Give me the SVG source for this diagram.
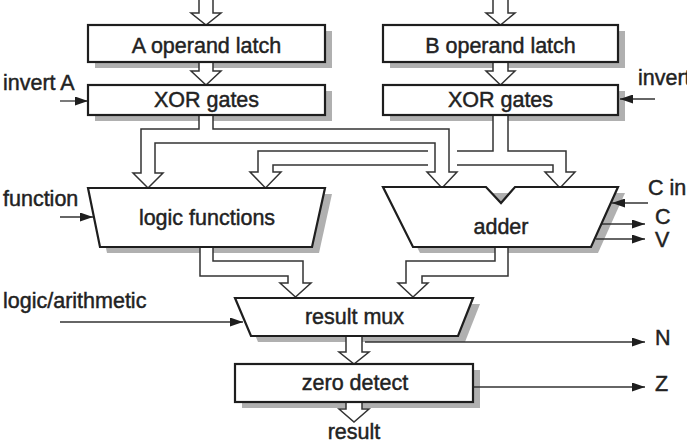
<svg xmlns="http://www.w3.org/2000/svg" width="687" height="443" viewBox="0 0 687 443">
<style>
text{font-family:"Liberation Sans",Arial,Helvetica,sans-serif;font-size:21.5px;fill:#222;stroke:#222;stroke-width:0.45}
.c{text-anchor:middle}
.node{fill:#fff;stroke:#1e1e1e;stroke-width:2.2;stroke-linejoin:miter}
.sh{fill:#b0b0b0}
.bus{fill:#fff;stroke:#333;stroke-width:1.5;stroke-linejoin:miter}
.sig{fill:none;stroke:#333;stroke-width:1.3}
</style>
<defs>
<marker id="ah" markerUnits="userSpaceOnUse" markerWidth="13" markerHeight="9" refX="13" refY="4.5" orient="auto">
<path d="M0,0 L13,4.5 L0,9 z" fill="#1e1e1e"/>
</marker>
</defs>
<rect width="687" height="443" fill="#fff"/>
<g id="shadows">
<rect class="sh" x="95" y="31" width="237" height="37"/>
<rect class="sh" x="95" y="91" width="237" height="30"/>
<rect class="sh" x="390" y="31" width="235" height="37"/>
<rect class="sh" x="390" y="91" width="235" height="30"/>
<polygon class="sh" points="95,194 332,194 319,253 107,253"/>
<polygon class="sh" points="390,193 625,193 598,253 420,253"/>
<polygon class="sh" points="242,304 480,304 465,342 258,342"/>
<rect class="sh" x="242" y="370" width="238" height="38"/>
</g>
<g id="connectors">
<path class="bus" d="M199,0 V13 H191 L206,25 L221,13 H213 V0"/>
<path class="bus" d="M199,63 V71 H191 L206,85 L221,71 H213 V63"/>
<path class="bus" d="M493,0 V13 H486 L500.5,25 L515,13 H508 V0"/>
<path class="bus" d="M493,63 V71 H486 L500.5,85 L515,71 H508 V63"/>
<path class="bus" d="M493,116 V151 H258 V172 H250 L265.5,188 L281,172 H273 V165 H553 V172 H545 L560,188 L575,172 H566 V151 H508 V116"/>
<rect x="428" y="147" width="29" height="22" fill="#fff"/>
<path class="bus" d="M199,116 V129 H141 V173 H133 L148,188 L163,173 H155 V143 H435 V172 H427 L442,188 L457,172 H449 V129 H213 V116"/>
<path class="bus" d="M200,248 V276 H288 V283 H280 L295.5,297 L311,283 H303 V261 H213 V248"/>
<path class="bus" d="M508,248 V276 H422 V283 H428 L413,297 L398,283 H406 V261 H495 V248"/>
<path class="bus" d="M346,337 V352 H339 L354,364 L369,352 H362 V337"/>
<path class="bus" d="M346,403 V409 H339 L354,422 L369,409 H362 V403"/>
<line class="sig" x1="60" y1="101" x2="88" y2="101" marker-end="url(#ah)"/>
<line class="sig" x1="655" y1="99" x2="620" y2="99" marker-end="url(#ah)"/>
<line class="sig" x1="60" y1="217" x2="93" y2="217" marker-end="url(#ah)"/>
<line class="sig" x1="648" y1="203" x2="612" y2="203" marker-end="url(#ah)"/>
<line class="sig" x1="601" y1="224" x2="645" y2="224" marker-end="url(#ah)"/>
<line class="sig" x1="596" y1="239" x2="645" y2="239" marker-end="url(#ah)"/>
<line class="sig" x1="60" y1="322" x2="243" y2="322" marker-end="url(#ah)"/>
<line class="sig" x1="365" y1="342" x2="645" y2="342" marker-end="url(#ah)"/>
<line class="sig" x1="474" y1="387" x2="645" y2="387" marker-end="url(#ah)"/>
</g>
<g id="a-latch">
<rect class="node" x="88" y="25" width="237" height="37"/>
<text class="c" x="206.5" y="53">A operand latch</text>
</g>
<g id="a-xor">
<rect class="node" x="88" y="85" width="237" height="30"/>
<text class="c" x="206.5" y="107">XOR gates</text>
</g>
<g id="b-latch">
<rect class="node" x="383" y="25" width="235" height="37"/>
<text class="c" x="500.5" y="53">B operand latch</text>
</g>
<g id="b-xor">
<rect class="node" x="383" y="85" width="235" height="30"/>
<text class="c" x="500.5" y="107">XOR gates</text>
</g>
<g id="logic-functions">
<polygon class="node" points="88,188 325,188 312,247 100,247"/>
<text class="c" x="207" y="225">logic functions</text>
</g>
<g id="adder">
<polygon class="node" points="383,187 486,187 501,203 515,187 618,187 591,247 413,247"/>
<text class="c" x="501" y="234">adder</text>
</g>
<g id="result-mux">
<polygon class="node" points="235,298 473,298 458,336 251,336"/>
<text class="c" x="354.5" y="324">result mux</text>
</g>
<g id="zero-detect">
<rect class="node" x="235" y="364" width="238" height="38"/>
<text class="c" x="355" y="390">zero detect</text>
</g>
<g id="labels">
<text x="3" y="90">invert A</text>
<text x="638" y="85">invert B</text>
<text x="3" y="206">function</text>
<text x="3" y="308">logic/arithmetic</text>
<text x="648" y="195">C in</text>
<text x="655" y="224">C</text>
<text x="655" y="247">V</text>
<text x="655" y="345">N</text>
<text x="655" y="391">Z</text>
<text class="c" x="354" y="439">result</text>
</g>
</svg>
